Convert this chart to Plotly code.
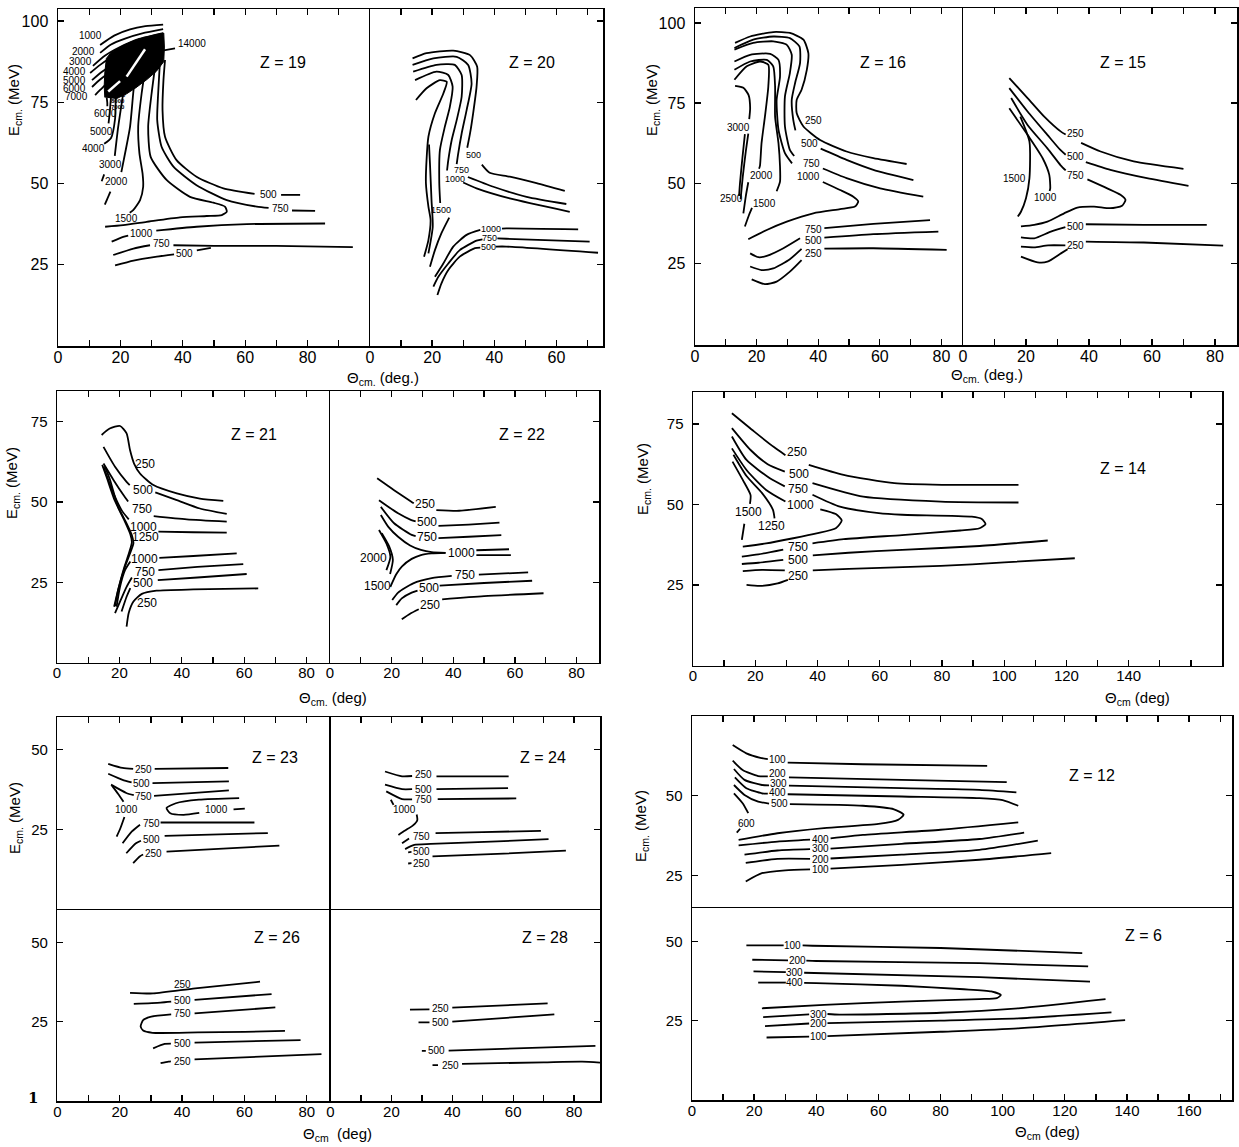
import plotly.graph_objects as go

N = None  # gap where a contour is interrupted by its label

# ---------------- Z = 19 (theta_cm deg, E_cm MeV) ----------------
Z19_CONTOURS = [
    ([13.5, 18, 23.1, 28, 33.7], [92.6, 95.5, 97.4, 98.4, 98.9]),
    ([13.5, 17, 21.5, 27, 33.7], [90.2, 92.8, 94.6, 96.2, 97.5]),
    ([11.2, 15, 19.9, 26, 33.7], [86.2, 89.3, 92.0, 94.5, 96.3]),
    ([10.3, 13.5, 16.7, 20], [84.0, 86.5, 88.6, 90.5]),
    ([10.9, 14, 17.3, 20], [81.8, 84.3, 86.5, 88]),
    ([10.9, 13.5, 16.7], [79.7, 82, 84.3]),
    ([11.9, 13.5, 15.1], [77.2, 78.8, 80.3]),
    ([15.6, 15.8, 15.8], [76.5, 74.8, 73.8]),
    ([17, 16.6, 16.2], [77, 72, 68.5]),
    ([18.5, 18.3, 17, 14.8], [77, 70, 64, 62.2]),
    ([22.5, 20.9, 19.3, 18.2, N, 14.8, 14.0], [88, 77.7, 67.5, 58.5, N, 52.8, 50.7]),
    ([25.2, 24.1, 23.1, 21.5, 20.3, N, 16.8, 15.0], [88, 77.7, 67.5, 59.3, 53.5, N, 47.5, 43.5]),
    ([28.4, 26.8, 25.7, 26.1, 27.1, 27.3, 26.3, 24.1, 23.0], [88, 77.7, 67.5, 59.3, 53.1, 49.0, 44.9, 41.8, 41.0]),
    ([31.4, 30.0, 28.9, 29.7, 34.8, 42.3, 49.8, 53.5, 54.1, 52.5, 47.7, 39.1, 28.4, 20.9, 15.1],
     [88, 77.7, 67.5, 58.2, 51.1, 45.9, 44.1, 42.9, 41.3, 40.3, 40.0, 39.6, 38.2, 37.2, 36.7]),
    ([32.7, 32.1, 31.8, 33.2, 37.0, 44.4, 54.1, 63.7, 67.5, N, 75, 82.4],
     [88, 77.7, 69.5, 61.3, 55.2, 49.5, 44.9, 42.9, 42.5, N, 41.7, 41.6]),
    ([34.3, 33.8, 33.5, 34.3, 38.0, 44.4, 53.0, 63.0, N, 71.5, 77.6],
     [88, 81.8, 72.6, 64.4, 57.2, 52.1, 48.5, 46.8, N, 46.5, 46.5]),
    ([17.2, 20.9, 22.5, N, 31.5, 44.4, 60.5, 85.6], [32.1, 33.6, 34.0, N, 35.5, 36.7, 37.5, 37.7]),
    ([17.7, 24.2, 29.5, N, 37, 50, 70, 94.5], [28.0, 30.0, 31.0, N, 31.0, 30.8, 30.8, 30.4]),
    ([18.3, 24.2, 31.7, 37.2, N, 44.5, 49], [24.8, 26.3, 27.5, 28.2, N, 29.4, 30.2]),
    ([33.9, 37.5], [91.0, 91.6]),
]
Z19_PEAK_TH = [15.0, 14.8, 15.0, 15.5, 17, 19.9, 23, 26, 30, 33.9, 34.1, 33.9, 31.5, 28.5, 25, 22.0, 18.5]
Z19_PEAK_E = [76.5, 80, 84, 88.5, 90.3, 92.0, 93.4, 94.5, 95.5, 96.3, 92, 87.5, 84.5, 82.0, 79.5, 77.6, 76.0]
Z19_STREAKS = [([27.9, 22.0], [91.3, 82.9]), ([19.9, 16.1], [81.5, 78.3])]
Z19_LABELS = [
    (10.3, 95.7, "1000"), (8.1, 90.6, "2000"), (7.1, 87.5, "3000"), (5.4, 84.4, "4000"),
    (5.4, 81.8, "5000"), (5.4, 79.3, "6000"), (6.0, 76.7, "7000"),
    (15.1, 71.6, "6000"), (14.0, 65.9, "5000"), (11.3, 60.8, "4000"), (16.7, 55.7, "3000"),
    (18.8, 50.6, "2000"), (22.0, 39.3, "1500"), (26.8, 34.7, "1000"), (33.2, 31.6, "750"),
    (40.7, 28.5, "500"), (67.4, 46.7, "500"), (71.2, 42.2, "750"), (43.0, 93.2, "14000"),
]
Z19_TINY_LABELS = [(19.6, 77.3, "9000"), (19.3, 75.4, "8000"), (19.3, 73.6, "7000")]

# ---------------- Z = 20 ----------------
Z20_CONTOURS = [
    ([13.7, 18.2, 26.8, 32.2, 34.5, 34.3, 33.2, 32.2, 31.3, N, 36, 38.5, 45.0, 53.6, 62.7],
     [88.5, 90.1, 90.9, 89.5, 85.9, 79.8, 71.6, 65.4, 61.0, N, 55.8, 53.3, 52.1, 50.1, 47.7]),
    ([13.7, 20.4, 27.9, 31.6, 32.7, 31.1, 29.5, 28.4, 27.9, N, 31.5, 39.7, 50.4, 63.2],
     [86.5, 88.5, 89.0, 86.5, 80.8, 72.6, 65.4, 59.3, 56.0, N, 52.0, 49.0, 45.9, 43.7]),
    ([13.9, 21.4, 27.3, 29.5, 29.5, 27.9, 26.3, 25.2, 24.8, N, 30.0, 34.3, 45.0, 64.3],
     [84.4, 86.5, 86.5, 83.4, 76.7, 69.5, 63.4, 57.2, 54.0, N, 50.3, 48.5, 45.4, 41.3]),
    ([14.5, 21.4, 25.2, 26.6, 25.7, 24.1, 22.5, 22.3, 22.6, N, 25.5, 23.0, 20.9, 19.3],
     [81.8, 84.4, 83.4, 79.8, 73.6, 67.5, 60.3, 50.1, 44.0, N, 39.5, 34.7, 29.5, 24.4]),
    ([14.8, 18.2, 22.5, 24.7, 23.6, 20.9, 18.8, 18.2, 18.0, 18.8, 19.5, 18.8, 17.4],
     [75.7, 79.3, 81.8, 81.3, 77.7, 71.6, 64.4, 57.2, 50.1, 42.9, 38.8, 32.6, 27.5]),
    ([19.0, 19.3, 19.8, 20.2, 18.8], [62.0, 56.2, 44.9, 36.7, 28.5]),
    ([67.0, 43.9, 42.5, N, 35.5, 31.1, 26.8, 23.6, 20.9], [35.9, 36.2, 36.1, N, 35.7, 34.2, 30.6, 25.4, 21.3]),
    ([70.7, 43.9, 41.0, N, 36.2, 34.3, 28.9, 25.2, 22.0, 20.4], [32.1, 33.0, 33.1, N, 32.8, 32.4, 29.5, 25.4, 21.3, 18.3]),
    ([73.4, 43.9, 40.5, N, 35.5, 33.8, 28.9, 25.2, 23.0, 21.7], [28.7, 30.6, 30.6, N, 30.3, 30.1, 27.5, 23.4, 19.3, 15.7]),
]
Z20_LABELS = [(33.2, 58.8, "500"), (29.5, 54.2, "750"), (27.3, 51.5, "1000"), (23.0, 41.8, "1500"),
              (39.1, 35.9, "1000"), (38.6, 33.1, "750"), (38.0, 30.6, "500")]

# ---------------- Z = 16 ----------------
Z16_CONTOURS = [
    ([13.0, 17.9, 25.4, 30.8, 35.2, 36.8, 36.3, 34.6, 33.0, 33.0, 35.2, 40.6, 49.2, 57.9, 68.7],
     [93.8, 95.8, 97.2, 96.9, 94.8, 90.6, 85.4, 79.2, 76.0, 71.9, 67.7, 63.5, 59.9, 57.8, 56.0]),
    ([12.8, 18.9, 25.4, 30.8, 33.9, 34.1, 32.5, 31.4, 31.9, 32.6, N, 40.8, 49.2, 57.9, 70.9],
     [92.2, 94.8, 95.8, 95.3, 92.7, 87.5, 81.3, 76.0, 69.8, 66.5, N, 60.8, 57.3, 54.2, 51.0]),
    ([12.8, 18.9, 25.4, 29.8, 31.4, 30.8, 29.2, 29.2, 30.8, 32.2, N, 41.5, 49.2, 60.1, 74.1],
     [91.7, 93.8, 94.3, 93.2, 90.1, 84.4, 77.1, 67.7, 60.4, 58.5, N, 54.6, 51.6, 48.4, 45.8]),
    ([12.8, 17.9, 24.4, 27.1, 27.6, 26.5, 27.1, 29.2, 31.5, N, 41.5, 47.1, 51.4, 53.0, 51.9, 47.1, 38.4, 29.8, 23.3, 17.3],
     [88.0, 90.1, 90.4, 88.5, 83.3, 76.0, 66.7, 59.4, 56.2, N, 50.4, 47.9, 45.8, 44.3, 42.7, 41.9, 40.6, 38.0, 35.4, 32.5]),
    ([12.8, 17.9, 23.3, 25.4, 26.0, 26.0, 27.1, 27.6, 27.6, 26.5, N, 18.5, 17.5, 16.2],
     [85.4, 88.0, 88.5, 86.5, 80.2, 70.8, 62.5, 55.2, 50.5, 47.5, N, 42.3, 40.0, 36.5]),
    ([12.8, 16.8, 21.1, 23.8, 23.8, 22.7, 21.6, 21.1, 20.8, N, 17.3, 16.5, 15.7],
     [82.3, 86.5, 88.0, 87.0, 80.2, 70.8, 62.5, 55.5, 54.5, N, 50.3, 46.0, 40.6]),
    ([13.0, 15.7, 17.4, 17.9, 17.6], [80.4, 79.8, 77.5, 73.5, 70.0]),
    ([17.3, 16.5, 15.5, 15.0, 14.8], [65.5, 60, 52, 47, 45.0]),
    ([16.2, 15.4, 14.6, 14.3], [65.3, 58, 50, 46]),
    ([17.9, 20.6, 23.3, 28.7, 34.1, N, 42.0, 57.9, 76.3], [28.1, 26.9, 27.3, 29.7, 32.8, N, 36.0, 37.3, 38.5]),
    ([17.9, 21.6, 25.4, 30.8, 34.6, N, 42.0, 57.9, 79.0], [24.0, 22.9, 23.4, 26.3, 29.5, N, 33.0, 34.1, 34.9]),
    ([18.4, 22.7, 26.5, 30.8, 34.6, N, 42.0, 57.9, 81.7], [20.0, 18.5, 19.3, 22.4, 26.0, N, 29.6, 29.7, 29.2]),
]
Z16_LABELS = [(38.4, 69.6, "250"), (37.3, 62.5, "500"), (37.9, 56.3, "750"), (36.8, 52.1, "1000"),
              (14.1, 67.4, "3000"), (21.6, 52.3, "2000"), (11.9, 45.3, "2500"), (22.7, 43.8, "1500"),
              (38.4, 35.6, "750"), (38.4, 32.1, "500"), (38.4, 28.1, "250")]

# ---------------- Z = 15 ----------------
Z15_CONTOURS = [
    ([14.7, 20.5, 25.8, 31.1, 32.6, N, 37.5, 43.7, 54.2, 70.0], [82.8, 76.6, 70.8, 66.1, 65.2, N, 62.6, 59.9, 56.8, 54.5]),
    ([14.7, 20.5, 26.8, 31.0, 32.6, N, 39.0, 46.8, 58.4, 71.6], [79.7, 72.4, 65.1, 60.3, 58.9, N, 56.6, 54.2, 51.6, 49.2]),
    ([15.3, 20.5, 26.8, 31.0, 32.6, N, 39.5, 45.8, 50.0, 51.6, 50.5, 46.8, 41.6, 36.3, 32.1, 26.8, 22.6, 18.4],
     [76.6, 68.2, 60.9, 55.6, 54.0, N, 51.2, 48.4, 46.4, 44.8, 43.0, 42.2, 42.7, 42.4, 40.6, 38.0, 37.0, 36.5]),
    ([14.7, 20.5, 25.3, 27.4, 27.7, 27.5], [73.4, 65.1, 57.8, 52.6, 48.4, 47.6]),
    ([18.2, 21.1, 21.1, 20.0, 18.4, 17.4], [70.8, 63.0, 51.6, 45.3, 41.1, 39.6]),
    ([18.4, 22.6, 27.9, 32.5, N, 39.0, 57.4, 77.4], [33.1, 32.8, 34.9, 36.3, N, 37.2, 37.0, 37.0]),
    ([18.4, 22.6, 27.0, 32.5, N, 39.0, 57.4, 82.6], [30.2, 30.0, 30.6, 30.6, N, 31.8, 31.5, 30.5]),
    ([18.4, 23.7, 26.8, 31.1, 33.2], [27.1, 25.3, 25.5, 28.1, 29.4]),
]
Z15_LABELS = [(35.8, 65.6, "250"), (35.8, 58.3, "500"), (35.8, 52.4, "750"), (16.3, 51.6, "1500"),
              (26.3, 45.5, "1000"), (35.8, 36.5, "500"), (35.8, 30.5, "250")]

# ---------------- Z = 21 ----------------
Z21_CONTOURS = [
    ([14.3, 16.9, 20.2, 22.3, 23.4, 24.7, 26.6, 30.9, 38.4, 45.8, 53.3],
     [70.9, 72.9, 73.7, 71.4, 66.2, 62.0, 58.9, 55.3, 52.7, 51.1, 50.4]),
    ([14.9, 18.6, 22.3, 23.3, N, 31.5, 38.4, 45.8, 54.4], [67.2, 61.0, 56.3, 55.3, N, 53.0, 50.6, 48.0, 46.3]),
    ([14.9, 18.1, 21.3, 22.8, N, 31.0, 41.6, 54.4], [62.0, 56.9, 52.2, 50.2, N, 45.6, 44.6, 43.9]),
    ([14.9, 18.1, 20.7, 23.0, N, 32.5, 43.7, 54.4], [61.0, 52.7, 47.5, 44.6, N, 40.8, 40.6, 40.5]),
    ([14.5, 16.0, 18.5, 21.5, 23.5, 24.0, 23.2, 21.5, 19.8, 18.3], [61.6, 57.5, 50.5, 44.5, 40.0, 37.5, 34.5, 29.5, 23.5, 17.4]),
    ([15.3, 17.0, 19.6, 22.3, 24.0, 24.5, 23.4, 21.8, 19.6, 18.6], [61.2, 56.9, 48.5, 43.4, 39.7, 37.2, 34.0, 29.9, 22.6, 17.6]),
    ([57.6, 43.7, 32.8, N, 23.5, 21.8, 20.2, 19.1], [34.0, 33.2, 32.6, N, 31.5, 28.8, 23.6, 17.4]),
    ([59.7, 45, 32.5, N, 24, 22.3, 20.2, 18.6], [30.7, 29.8, 28.8, N, 26.5, 23.6, 19.0, 15.4]),
    ([60.8, 45, 32.3, N, 23.5, 22.3, 20.7], [27.6, 26.5, 25.7, N, 23.2, 20.5, 15.9]),
    ([64.5, 43.7, 31.9, 27.2, 24.5, 23.0, 22.3], [23.1, 22.8, 22.4, 21.4, 19.0, 15.5, 11.2]),
]
Z21_LABELS = [(28.2, 62.0, "250"), (27.7, 53.7, "500"), (27.1, 47.7, "750"), (27.7, 42.3, "1000"),
              (28.4, 39.0, "1250"), (28.2, 32.4, "1000"), (28.2, 28.3, "750"), (27.7, 24.7, "500"),
              (28.7, 18.5, "250")]

# ---------------- Z = 22 ----------------
Z22_CONTOURS = [
    ([15.3, 20.8, 26.4, 27.2, N, 34.5, 41.9, 53.8], [57.4, 53.7, 50.1, 49.6, N, 47.5, 47.3, 48.5]),
    ([15.9, 22.1, 26.4, 27.8, N, 35.2, 45, 55.0], [50.6, 46.5, 44.4, 44.0, N, 42.6, 43.0, 43.6]),
    ([16.5, 20.8, 26.5, 27.8, N, 35.2, 45, 55.6], [48.5, 43.4, 39.8, 39.4, N, 38.8, 39.2, 39.7]),
    ([16.5, 19, 22.1, 26, 29.5, 33, 37.5], [46.0, 42.2, 39.2, 36.5, 35.1, 34.4, 34.2]),
    ([19.6, 21.5, 23.3, 26.5, 29.5, 33, 37.5], [23.6, 27.5, 29.9, 32.3, 33.5, 34.0, 34.2]),
    ([47.5, 58.1], [35.0, 35.3]),
    ([47.5, 58.7], [33.5, 33.5]),
    ([15.9, 18.3, 19.6, 18.3], [41.3, 37.1, 33.0, 28.8]),
    ([16.8, 19.2, 20.4, 19.5], [40.3, 36.2, 32.0, 27.6]),
    ([20.2, 22.1, 27.0, 33, 39.5, N, 48.3, 64.3], [19.5, 21.8, 24.7, 26.3, 27.0, N, 27.4, 28.1]),
    ([21.5, 23.3, 26.5, 28.4, N, 35.6, 50, 65.6], [17.9, 20.0, 21.8, 22.4, N, 24.0, 24.8, 25.5]),
    ([23.3, 26, 28.8, N, 36.4, 50, 69.3], [13.5, 15.2, 16.6, N, 19.7, 20.7, 21.6]),
]
Z22_LABELS = [(30.8, 49.4, "250"), (31.4, 43.9, "500"), (31.4, 39.2, "750"), (42.6, 34.0, "1000"),
              (14.0, 32.5, "2000"), (15.3, 23.8, "1500"), (43.8, 27.2, "750"), (32.0, 23.1, "500"),
              (32.6, 17.9, "250")]

# ---------------- Z = 14 ----------------
Z14_CONTOURS = [
    ([12.5, 19.7, 26, 29.7, N, 37.2, 48.4, 64.7, 80, 104.6], [78.3, 72.6, 67.8, 65.3, N, 62.3, 59.2, 56.6, 56.1, 56.1]),
    ([12.5, 18.5, 24, 29.5, N, 38.4, 54.7, 79.6, 104.6], [73.7, 66.9, 62.5, 60.2, N, 56.6, 52.4, 50.9, 50.6]),
    ([12.5, 17.2, 24.7, 29.5, N, 38.4, 47.2, 59.7, 67.2, 89.6, 92.8, 94.0, 92.1, 85.9, 67.2, 48.4, 38.4, N, 29, 21.0, 15.7],
     [71.1, 63.8, 58.1, 55.6, N, 53.0, 49.3, 47.3, 46.8, 46.2, 45.5, 43.9, 42.6, 41.9, 40.5, 39.2, 37.9, N, 36.0, 34.5, 33.8]),
    ([12.5, 17.2, 23.5, 29.7, N, 40.9, 45.9, 47.8, 45.9, 39.7, 32.2, 23.5, 16.0],
     [67.4, 60.7, 54.5, 50.9, N, 48.5, 47.0, 45.0, 42.6, 41.0, 39.5, 37.9, 36.9]),
    ([13.0, 17.2, 22.2, 25.7, 26.2], [65.4, 58.8, 53.5, 48.3, 45.7]),
    ([12.7, 16.0, 18.5, 18.3], [63.3, 57.6, 52.9, 50.2]),
    ([16.5, 15.7], [44.0, 39.0]),
    ([15.7, 21.0, 29.0, N, 38.5, 50, 67.2, 92.1, 114.0], [31.5, 31.9, 32.8, N, 34.2, 35.0, 35.9, 37.1, 38.8]),
    ([16.0, 22.2, 29.5, N, 38.5, 50, 79.6, 100, 122.7], [29.3, 29.7, 29.5, N, 29.5, 30.0, 30.9, 32.0, 33.3]),
    ([17.2, 21.6, 27.2, 30.5], [25.0, 24.7, 25.5, 26.6]),
]
Z14_LABELS = [(33.4, 66.4, "250"), (34.1, 59.5, "500"), (33.7, 54.7, "750"), (34.7, 49.8, "1000"),
              (17.8, 47.8, "1500"), (25.3, 43.3, "1250"), (33.7, 36.9, "750"), (33.7, 32.6, "500"),
              (33.7, 27.9, "250")]

# ---------------- Z = 23 ----------------
Z23_CONTOURS = [
    ([16.3, 20.9, 24.3, N, 31.2, 54.8], [45.6, 44.3, 44.0, N, 44.0, 44.3]),
    ([16.3, 20.9, 23.8, N, 30.5, 55.0], [42.5, 40.6, 39.8, N, 39.6, 40.1]),
    ([17.2, 22.1, 24.5, N, 31.0, 55.0], [39.1, 36.5, 35.8, N, 35.6, 37.3]),
    ([17.5, 19.5, 21.2], [38.8, 36.2, 33.8]),
    ([21.5, 20.2, 19.0], [29.0, 25.5, 22.9]),
    ([58.3, 45.4, 38.0, 35.0, 36.2, 40.5, 45.5, N, 56.5, 60.1], [34.9, 34.4, 33.3, 31.8, 30.2, 29.7, 30.3, N, 31.4, 31.6]),
    ([20.9, 23.9, 26.5, N, 33.1, 63.2], [20.8, 24.5, 26.6, N, 27.3, 27.3]),
    ([22.1, 25.2, 26.8, N, 34.4, 67.5], [17.7, 20.8, 21.6, N, 23.1, 24.0]),
    ([24.3, 26.4, 27.5, N, 35.0, 71.2], [14.6, 16.7, 17.3, N, 18.2, 20.1]),
]
Z23_LABELS = [(27.6, 43.8, "250"), (27.0, 39.6, "500"), (27.6, 35.4, "750"), (22.1, 31.5, "1000"),
              (50.9, 31.3, "1000"), (30.1, 27.1, "750"), (30.1, 21.9, "500"), (30.7, 17.5, "250")]

# ---------------- Z = 24 ----------------
Z24_CONTOURS = [
    ([17.9, 23.5, 26.8, N, 34.8, 58.5], [43.2, 41.7, 41.8, N, 41.7, 41.7]),
    ([17.9, 23.5, 26.8, N, 34.8, 58.3], [39.1, 37.7, 37.7, N, 37.7, 38.0]),
    ([18.3, 23.5, 26.8, N, 35.2, 61.0], [37.0, 34.6, 34.5, N, 34.6, 34.8]),
    ([19.8, 20.7], [34.4, 32.8]),
    ([28.3, 28.5, 27, 24.5, 22.3], [29.8, 28.0, 26.3, 24.8, 23.4]),
    ([23.5, 25.8, N, 34.5, 50, 69.1], [20.8, 22.3, N, 24.0, 24.3, 24.7]),
    ([24.5, 27.5, 32.9, 54.8, 71.6], [19.0, 20.3, 20.6, 21.4, 22.1]),
    ([25.5, 26.6, N, 33.5, 54.8, 77.3], [18.0, 18.1, N, 16.7, 17.5, 18.5]),
    ([25.5, 26.6], [14.5, 14.6]),
]
Z24_LABELS = [(30.5, 42.2, "250"), (30.5, 37.7, "500"), (30.5, 34.4, "750"), (24.2, 31.3, "1000"),
              (29.9, 22.9, "750"), (29.9, 18.2, "500"), (29.9, 14.6, "250")]

# ---------------- Z = 26 ----------------
Z26_CONTOURS = [
    ([23.3, 30.7, 44.2, 65.0], [34.1, 33.9, 35.5, 37.6]),
    ([24.5, 33.1, 36.5, N, 44.0, 68.7], [30.6, 31.0, 31.3, N, 31.9, 33.7]),
    ([69.9, 44.0, N, 36.5, 30.1, 27.5, 26.7, 27.5, 30.5, 45, 60, 73.0],
     [29.5, 27.6, N, 27.3, 26.6, 25.5, 23.5, 22.2, 21.5, 21.6, 21.8, 22.1]),
    ([30.7, 34.4, 36.4, N, 44.0, 78.0], [16.6, 18.0, 18.1, N, 18.4, 19.2]),
    ([33.1, 35.6, 36.4, N, 44.0, 84.7], [11.9, 12.4, 12.5, N, 13.1, 14.8]),
]
Z26_LABELS = [(40.2, 36.6, "250"), (40.2, 31.8, "500"), (40.2, 27.6, "750"), (40.2, 18.0, "500"),
              (40.2, 12.4, "250")]

# ---------------- Z = 28 ----------------
Z28_CONTOURS = [
    ([26.1, 32.5, N, 40.0, 71.3], [28.8, 28.9, N, 29.4, 30.8]),
    ([28.9, 32.5, N, 40.0, 73.5], [24.8, 24.8, N, 25.0, 27.3]),
    ([30.0, 31.3, N, 38.8, 87.0], [15.8, 15.8, N, 15.9, 17.4]),
    ([33.5, 35.3, N, 43.2, 70, 82.6, 88.5], [11.3, 11.3, N, 11.7, 12.2, 12.4, 12.1]),
]
Z28_LABELS = [(36.1, 29.2, "250"), (36.1, 24.7, "500"), (34.9, 15.9, "500"), (39.3, 11.3, "250")]

# ---------------- Z = 12 ----------------
Z12_CONTOURS = [
    ([13.1, 17.5, 22, 24.4, N, 30.8, 55.0, 95.0], [65.8, 63.2, 61.8, 61.4, N, 60.3, 59.8, 59.3]),
    ([13.1, 16.3, 21.3, 24.4, N, 31.2, 67.5, 101.3], [60.9, 58.0, 56.1, 56.0, N, 55.7, 54.9, 54.2]),
    ([13.5, 16.9, 22.5, 24.8, N, 31.2, 67.5, 92.5, 104.4], [58.3, 54.9, 53.3, 53.2, N, 53.1, 52.3, 51.8, 51.0]),
    ([13.8, 17.5, 22.5, 24.4, N, 30.8, 67.5, 92.5, 100, 105], [55.7, 52.3, 50.7, 50.6, N, 50.4, 49.7, 49.2, 48.6, 46.8]),
    ([13.5, 16.9, 21.3, 24.8, N, 31.5, 55.0, 65.0, 68.1, 66.3, 60.0, 42.5, 27.5, 15.0],
     [53.3, 50.2, 48.1, 47.5, N, 47.3, 46.8, 45.7, 44.0, 42.4, 41.1, 39.8, 38.2, 36.1]),
    ([13.5, 16.3, 18.1, N, 15.5, 14.4], [50.7, 47.6, 44.5, N, 39.6, 38.4]),
    ([15.0, 27.5, 38, N, 44.6, 55, 80, 105], [34.4, 35.6, 36.2, N, 36.6, 37.7, 39.3, 41.6]),
    ([16.9, 27.5, 38, N, 44.6, 67.5, 92.5, 106.9], [31.5, 32.8, 33.2, N, 33.4, 34.9, 36.4, 38.4]),
    ([17.3, 27.5, 38, N, 44.6, 67.5, 92.5, 111.3], [28.9, 30.2, 30.2, N, 30.3, 31.5, 33.0, 35.9]),
    ([17.3, 22.5, 30.0, 38, N, 44.6, 67.5, 92.5, 115.6], [23.1, 25.7, 26.6, 26.9, N, 27.1, 28.3, 29.9, 32.0]),
]
Z12_LABELS = [(27.5, 61.4, "100"), (27.5, 56.8, "200"), (27.9, 53.9, "300"), (27.5, 50.9, "400"),
              (28.1, 47.4, "500"), (17.5, 41.4, "600"), (41.3, 36.4, "400"), (41.3, 33.3, "300"),
              (41.3, 30.1, "200"), (41.3, 27.0, "100")]

# ---------------- Z = 6 ----------------
Z6_CONTOURS = [
    ([17.5, 29.5, N, 35.6, 38.8, 80, 125.6], [48.7, 48.7, N, 48.7, 48.6, 47.9, 46.3]),
    ([19.4, 30.9, N, 36.8, 40, 92.5, 127.5], [44.2, 44.0, N, 43.9, 43.8, 43.1, 42.1]),
    ([19.8, 30.2, N, 36.1, 92.5, 128.1], [40.5, 40.3, N, 40.1, 38.7, 37.3]),
    ([21.3, 30.2, N, 36.1, 40, 67.5, 87.5, 96.3, 99.4, 98.1, 92.5, 67.5, 42.5, 22.5],
     [37.0, 37.0, N, 36.9, 36.8, 36.0, 34.9, 34.2, 33.1, 32.1, 31.8, 31.0, 30.0, 28.9]),
    ([22.9, 37.7, N, 43.6, 47.5, 80, 105, 133.1], [26.1, 27.0, N, 27.1, 26.9, 27.5, 28.9, 31.8]),
    ([23.5, 37.7, N, 43.6, 80, 105, 135], [23.3, 24.1, N, 24.2, 25.0, 25.7, 27.6]),
    ([24, 37.7, N, 43.6, 80, 105, 139.4], [19.7, 20.0, N, 20.1, 21.5, 22.6, 25.2]),
]
Z6_LABELS = [(32.5, 48.7, "100"), (33.8, 44.0, "200"), (33.1, 40.2, "300"), (33.1, 37.0, "400"),
             (40.6, 27.1, "300"), (40.6, 24.2, "200"), (40.6, 20.1, "100")]

# ---------------- layout (pixel geometry of the scanned figure) ----------------
W, H = 1239, 1147
FONT = "Liberation Sans, Arial, sans-serif"

PANELS = [
    dict(z="Z = 19", c=Z19_CONTOURS, l=Z19_LABELS, fs=10, px=(58, 370), py=(9, 346), xr=(0, 100), yr=(0, 103.7),
         xt=90, xl=80, xm="both", yt=(25, 50, 75, 100), ys="left", zp=(283, 62), tf=16),
    dict(z="Z = 20", c=Z20_CONTOURS, l=Z20_LABELS, fs=9, px=(370, 603), py=(9, 346), xr=(0, 75), yr=(0, 103.7),
         xt=70, xl=60, xm="both", yt=(25, 50, 75, 100), ys="right", zp=(532, 62), tf=16),
    dict(z="Z = 16", c=Z16_CONTOURS, l=Z16_LABELS, fs=10, px=(695, 963), py=(8, 345), xr=(0, 87), yr=(-0.5, 104.7),
         xt=80, xl=80, xm="both", yt=(25, 50, 75, 100), ys="left", zp=(883, 62), tf=16),
    dict(z="Z = 15", c=Z15_CONTOURS, l=Z15_LABELS, fs=10, px=(963, 1237), py=(8, 345), xr=(0, 87), yr=(-0.5, 104.7),
         xt=80, xl=80, xm="both", yt=(25, 50, 75, 100), ys="right", zp=(1123, 62), tf=16),
    dict(z="Z = 21", c=Z21_CONTOURS, l=Z21_LABELS, fs=12, px=(57, 330), py=(391, 662.6), xr=(0, 87.5), yr=(0, 84.6),
         xt=80, xl=80, xm="both", yt=(25, 50, 75), ys="left", zp=(254, 435), tf=15),
    dict(z="Z = 22", c=Z22_CONTOURS, l=Z22_LABELS, fs=12, px=(330, 599), py=(391, 662.6), xr=(0, 87.3), yr=(0, 84.6),
         xt=80, xl=80, xm="both", yt=(25, 50, 75), ys="right", zp=(522, 435), tf=15),
    dict(z="Z = 14", c=Z14_CONTOURS, l=Z14_LABELS, fs=12, px=(693, 1222), py=(392, 665.5), xr=(0, 170), yr=(0, 84.9),
         xt=160, xl=140, xm="both", yt=(25, 50, 75), ys="single", zp=(1123, 468), tf=15),
    dict(z="Z = 23", c=Z23_CONTOURS, l=Z23_LABELS, fs=10, px=(57.4, 330.5), py=(717, 910), xr=(0, 87.6), yr=(0, 60.2),
         xt=80, xl=None, xm="top", yt=(25, 50), ys="left", zp=(275, 757), tf=15),
    dict(z="Z = 24", c=Z24_CONTOURS, l=Z24_LABELS, fs=10, px=(330.5, 600), py=(717, 910), xr=(0, 88.5), yr=(0, 60.2),
         xt=80, xl=None, xm="top", yt=(25, 50), ys="right", zp=(543, 757), tf=15),
    dict(z="Z = 26", c=Z26_CONTOURS, l=Z26_LABELS, fs=10, px=(57.4, 330.5), py=(910, 1101), xr=(0, 87.6), yr=(0, 60.2),
         xt=80, xl=80, xm="bottom", yt=(25, 50), ys="left", zp=(277, 937), tf=15),
    dict(z="Z = 28", c=Z28_CONTOURS, l=Z28_LABELS, fs=10, px=(330.5, 600), py=(910, 1101), xr=(0, 88.5), yr=(0, 60.2),
         xt=80, xl=80, xm="bottom", yt=(25, 50), ys="right", zp=(545, 937), tf=15),
    dict(z="Z = 12", c=Z12_CONTOURS, l=Z12_LABELS, fs=10, px=(692, 1232), py=(716, 908), xr=(0, 173.8), yr=(14.8, 74.9),
         xt=170, xl=None, xm="top", yt=(25, 50), ys="single", zp=(1092, 775), tf=15),
    dict(z="Z = 6", c=Z6_CONTOURS, l=Z6_LABELS, fs=10, px=(692, 1232), py=(908, 1100), xr=(0, 173.8), yr=(0, 60.5),
         xt=170, xl=160, xm="bottom", yt=(25, 50), ys="single", zp=(1143, 935), tf=15),
]

X_TITLES = [("Θ<sub>cm.</sub> (deg.)", 383, 378), ("Θ<sub>cm.</sub> (deg.)", 987, 376),
            ("Θ<sub>cm.</sub> (deg)", 333, 698), ("Θ<sub>cm</sub> (deg)", 1137, 698),
            ("Θ<sub>cm</sub>  (deg)", 337, 1134), ("Θ<sub>cm</sub> (deg)", 1047, 1132)]
Y_TITLES = [(14, 100), (652, 100), (13, 483), (643, 479), (15, 818), (641, 826)]

fig = go.Figure()
layout = dict(width=W, height=H, margin=dict(l=0, r=0, t=0, b=0, pad=0), paper_bgcolor="white",
              plot_bgcolor="white", showlegend=False, hovermode=False)
annotations = []


def paper(xp, yp):
    return xp / W, 1 - yp / H


for i, p in enumerate(PANELS, start=1):
    sx = "" if i == 1 else str(i)
    xref, yref = "x" + sx, "y" + sx
    for th, en in p["c"]:
        fig.add_trace(go.Scatter(x=th, y=en, xaxis=xref, yaxis=yref, mode="lines", connectgaps=False,
                                 line=dict(color="black", width=1.8, shape="spline", smoothing=0.6),
                                 hoverinfo="skip", showlegend=False))
    for th, en, txt in p["l"]:
        annotations.append(dict(x=th, y=en, xref=xref, yref=yref, text=txt, showarrow=False,
                                xanchor="center", yanchor="middle",
                                font=dict(family=FONT, size=p["fs"], color="black")))
    zx, zy = paper(*p["zp"])
    annotations.append(dict(x=zx, y=zy, xref="paper", yref="paper", text=p["z"], showarrow=False,
                            xanchor="center", yanchor="middle", font=dict(family=FONT, size=16, color="black")))

    xt = list(range(0, p["xt"] + 1, 10))
    xtext = [str(v) if (p["xl"] is not None and v % 20 == 0 and v <= p["xl"]) else "" for v in xt]
    xa = dict(domain=[p["px"][0] / W, p["px"][1] / W], range=list(p["xr"]), anchor=yref,
              tickmode="array", tickvals=xt, ticktext=xtext, ticks="inside", ticklen=6, tickwidth=1.3,
              tickcolor="black", showline=True, linecolor="black", linewidth=1.5, showgrid=False,
              zeroline=False, fixedrange=True, automargin=False, ticklabelstandoff=-4,
              tickfont=dict(family=FONT, size=p["tf"], color="black"))
    if p["xm"] == "both":
        xa.update(side="bottom", mirror="ticks", showticklabels=True)
    elif p["xm"] == "bottom":
        xa.update(side="bottom", mirror=True, showticklabels=True)
    else:
        xa.update(side="top", mirror=False, showticklabels=False)

    ya = dict(domain=[1 - p["py"][1] / H, 1 - p["py"][0] / H], range=list(p["yr"]), anchor=xref,
              tickmode="array", tickvals=list(p["yt"]), ticktext=[str(v) for v in p["yt"]],
              ticks="inside", ticklen=6, tickwidth=1.3, tickcolor="black", showline=True,
              linecolor="black", linewidth=1.5, showgrid=False, zeroline=False, fixedrange=True,
              automargin=False, ticklabelstandoff=5,
              tickfont=dict(family=FONT, size=p["tf"], color="black"))
    if p["ys"] == "left":
        ya.update(side="left", mirror=False, showticklabels=True)
    elif p["ys"] == "right":
        ya.update(side="right", mirror=True, showticklabels=False)
    else:
        ya.update(side="left", mirror="ticks", showticklabels=True)

    layout["xaxis" + sx] = xa
    layout["yaxis" + sx] = ya

# Z = 19 dense peak region (filled) with its light streaks
fig.add_trace(go.Scatter(x=Z19_PEAK_TH, y=Z19_PEAK_E, xaxis="x", yaxis="y", mode="lines", fill="toself",
                         fillcolor="black", line=dict(color="black", width=1),
                         hoverinfo="skip", showlegend=False))
for th, en in Z19_STREAKS:
    fig.add_trace(go.Scatter(x=th, y=en, xaxis="x", yaxis="y", mode="lines",
                             line=dict(color="white", width=2.5), hoverinfo="skip", showlegend=False))
for th, en, txt in Z19_TINY_LABELS:
    annotations.append(dict(x=th, y=en, xref="x", yref="y", text="<b>" + txt + "</b>", showarrow=False,
                            xanchor="center", yanchor="middle",
                            font=dict(family=FONT, size=6, color="black")))

for txt, xp, yp in X_TITLES:
    ax, ay = paper(xp, yp)
    annotations.append(dict(x=ax, y=ay, xref="paper", yref="paper", text=txt, showarrow=False,
                            xanchor="center", yanchor="middle", font=dict(family=FONT, size=15, color="black")))
for xp, yp in Y_TITLES:
    ax, ay = paper(xp, yp)
    annotations.append(dict(x=ax, y=ay, xref="paper", yref="paper", text="E<sub>cm.</sub> (MeV)",
                            showarrow=False, textangle=-90, xanchor="center", yanchor="middle",
                            font=dict(family=FONT, size=15, color="black")))
ax, ay = paper(33, 1098)
annotations.append(dict(x=ax, y=ay, xref="paper", yref="paper", text="<b>1</b>", showarrow=False,
                        xanchor="center", yanchor="middle",
                        font=dict(family="DejaVu Serif, serif", size=15, color="black")))

layout["annotations"] = annotations
fig.update_layout(**layout)
fig.write_html("out.html", config={"displayModeBar": False, "staticPlot": True},
               post_script="document.body.style.margin='0px';document.body.style.padding='0px';")
